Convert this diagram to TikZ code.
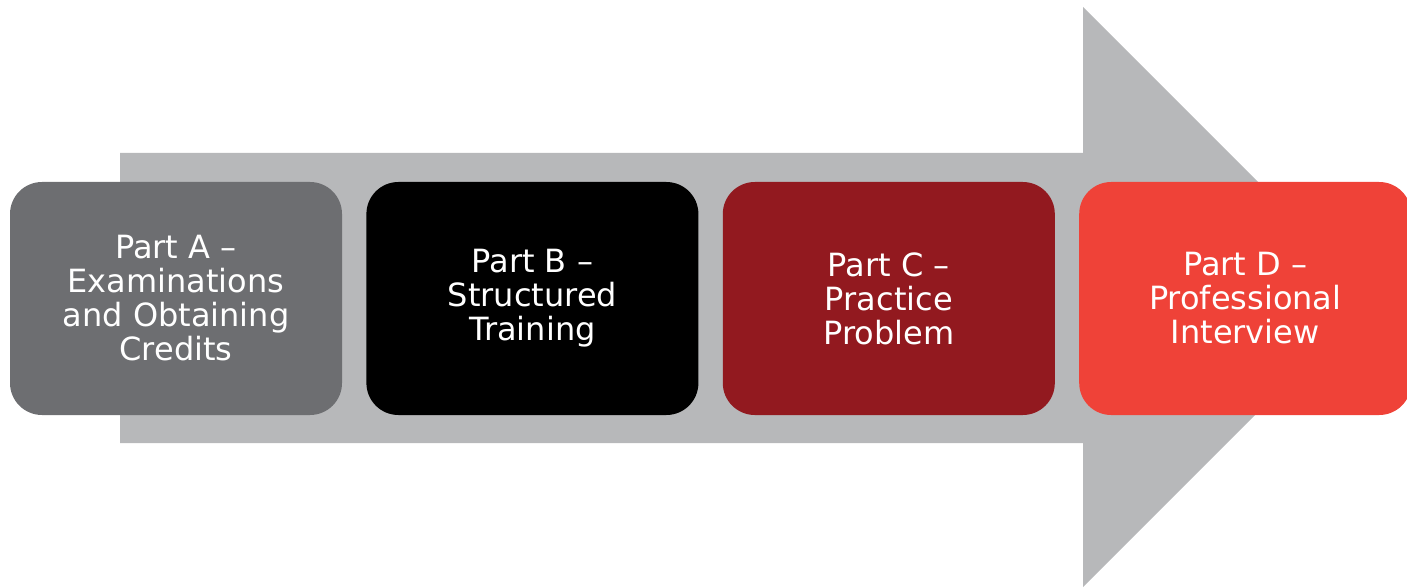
\documentclass[tikz,border=0pt]{standalone}
\usepackage{fontspec}
\setmainfont{DejaVu Sans}
\usepackage{xcolor}
\usetikzlibrary{positioning}
\definecolor{arrowgray}{HTML}{B7B8BA}
\definecolor{partgray}{HTML}{6D6E71}
\definecolor{partred}{HTML}{92191F}
\definecolor{partorange}{HTML}{EF4238}

\begin{document}
\begin{tikzpicture}[x=1pt,y=-1pt,
    part/.style={rounded corners=32pt,minimum width=332pt,minimum height=233pt,
        inner sep=0pt,align=center,text=white,font=\fontsize{32}{34}\selectfont}]
    \useasboundingbox (0,0) rectangle (1407,588);
    \fill[arrowgray] (120,153) -- (1083,153) -- (1083,7) -- (1373,297)
        -- (1083,587) -- (1083,443) -- (120,443) -- cycle;
    \node[part,fill=partgray] (A) at (176,298.5) {Part A –\\Examinations\\and Obtaining\\Credits};
    \node[part,fill=black,right=24pt of A] (B) {Part B –\\Structured\\Training};
    \node[part,fill=partred,right=24pt of B] (C) {Part C –\\Practice\\Problem};
    \node[part,fill=partorange,right=24pt of C] (D) {Part D –\\Professional\\Interview};
\end{tikzpicture}
\end{document}
